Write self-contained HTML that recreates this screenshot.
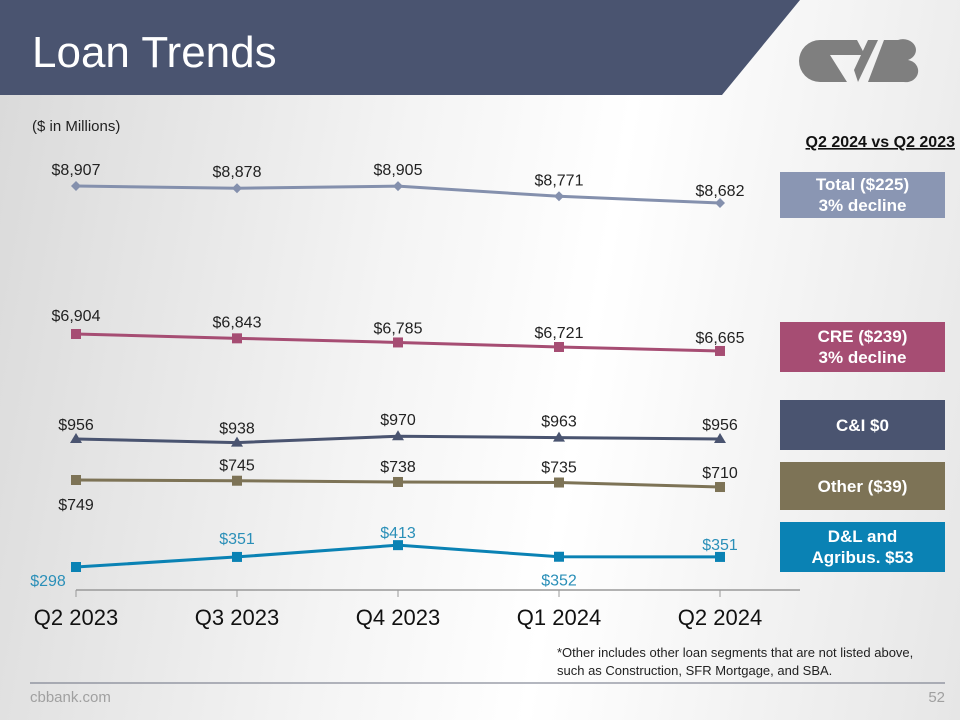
<!DOCTYPE html>
<html><head><meta charset="utf-8"><style>
body{margin:0}
#s{position:relative;width:960px;height:720px;overflow:hidden;background:linear-gradient(100deg,#d9d9d9 0%,#f4f4f4 40%,#ffffff 60%,#e6e6e6 100%);font-family:"Liberation Sans",sans-serif}
.box{position:absolute;left:780px;width:165px;color:#fff;font-weight:bold;font-size:17px;text-align:center;display:flex;align-items:center;justify-content:center;line-height:21px}
</style></head><body>
<div id="s">
<svg width="960" height="720" style="position:absolute;left:0;top:0">
<polygon points="0,0 800,0 722,95 0,95" fill="#4a5470"/>
<text x="32" y="67" font-size="44" fill="#fff" font-family="Liberation Sans">Loan Trends</text>
<g fill="#7f7f7f">
<path d="M820,40 h37 l8,15 h-35 l17,27 h-27 a21,21 0 0 1 0,-42z"/>
<path d="M858,82 l20,-42 h-10 l-14,30z"/>
<path d="M884,40 h14 a12,10 0 0 1 10,20 a12,11 0 0 1 -4,22 h-36 z"/>
</g>
<line x1="30" y1="683" x2="945" y2="683" stroke="#6a6f80" stroke-width="1"/>
<text x="30" y="702" font-size="15" fill="#a0a0a0">cbbank.com</text>
<text x="945" y="702" font-size="15" fill="#a0a0a0" text-anchor="end">52</text>
<text x="32" y="131" font-size="15" fill="#222">($ in Millions)</text>
<text x="955" y="147" font-size="16" font-weight="bold" fill="#111" text-anchor="end" text-decoration="underline">Q2 2024 vs Q2 2023</text>
<text x="557" y="657" font-size="13" fill="#222">*Other includes other loan segments that are not listed above,</text>
<text x="557" y="675" font-size="13" fill="#222">such as Construction, SFR Mortgage, and SBA.</text>
<g id="chart"></g>
</svg>
<div class="box" style="top:172px;height:46px;background:#8a96b3">Total ($225)<br>3% decline</div>
<div class="box" style="top:322px;height:50px;background:#a64d73">CRE ($239)<br>3% decline</div>
<div class="box" style="top:400px;height:50px;background:#4a5470">C&amp;I $0</div>
<div class="box" style="top:462px;height:48px;background:#7d7356">Other ($39)</div>
<div class="box" style="top:522px;height:50px;background:#0a82b4">D&amp;L and<br>Agribus. $53</div>
</div>
<script>
const categories=["Q2 2023","Q3 2023","Q4 2023","Q1 2024","Q2 2024"];
const totalVals=[8907,8878,8905,8771,8682];
const creVals=[6904,6843,6785,6721,6665];
const ciVals=[956,938,970,963,956];
const otherVals=[749,745,738,735,710];
const dlVals=[298,351,413,352,351];
const NS="http://www.w3.org/2000/svg";
const g=document.getElementById('chart');
function xPos(i){return 76+i*161;}
function mk(t,a){const e=document.createElementNS(NS,t);for(const k in a)e.setAttribute(k,a[k]);g.appendChild(e);return e;}
const ax=mk('line',{x1:76,y1:590,x2:800,y2:590,stroke:'#999','stroke-width':1.5});


categories.forEach((c,i)=>{
 const t=mk('line',{x1:xPos(i),y1:590,x2:xPos(i),y2:597,stroke:'#999'});
 
 
 const l=mk('text',{x:xPos(i),y:625,'font-size':22,'text-anchor':'middle',fill:'#111'});
 l.textContent=c;
 
 
});
const series=[
 {name:'total',vals:totalVals,ref:8907,base:186,k:0.0756,color:'#8490ad',lc:'#222',m:'diamond',lab:[-16,-16,-16,-16,-12],ox:[0,0,0,0,0]},
 {name:'cre',vals:creVals,ref:6904,base:334,k:0.071,color:'#a64d73',lc:'#222',m:'square',lab:[-18,-16,-14,-14,-13],ox:[0,0,0,0,0]},
 {name:'ci',vals:ciVals,ref:956,base:439,k:0.2,color:'#4a5470',lc:'#222',m:'tri',lab:[-14,-14,-16,-16,-14],ox:[0,0,0,0,0]},
 {name:'other',vals:otherVals,ref:749,base:480,k:0.18,color:'#7d7356',lc:'#222',m:'square',lab:[25,-15,-15,-15,-14],ox:[0,0,0,0,0]},
 {name:'dl',vals:dlVals,ref:298,base:567,k:0.19,color:'#0a82b4',lc:'#2a8fb8',m:'square',lab:[14,-18,-12,24,-12],ox:[-28,0,0,0,0]}
];
series.forEach(s=>{
 const y=v=>s.base-(v-s.ref)*s.k;
 const pts=s.vals.map((v,i)=>xPos(i)+','+y(v)).join(' ');
 const pl=mk('polyline',{points:pts,fill:'none',stroke:s.color,'stroke-width':3});
 
 
 s.vals.forEach((v,i)=>{
  const x=xPos(i),yy=y(v);let m;
  if(s.m==='square')m=mk('rect',{x:x-5,y:yy-5,width:10,height:10,fill:s.color});
  else if(s.m==='diamond')m=mk('polygon',{points:`${x},${yy-5} ${x+5},${yy} ${x},${yy+5} ${x-5},${yy}`,fill:s.color});
  else m=mk('polygon',{points:`${x},${yy-6} ${x+6},${yy+4} ${x-6},${yy+4}`,fill:s.color});
  
  
  const t=mk('text',{x:x+s.ox[i],y:yy+s.lab[i]+5,'font-size':16,'text-anchor':'middle',fill:s.lc});
  t.textContent='$'+v.toLocaleString('en-US');
  
  
 });
});
</script>
</body></html>
